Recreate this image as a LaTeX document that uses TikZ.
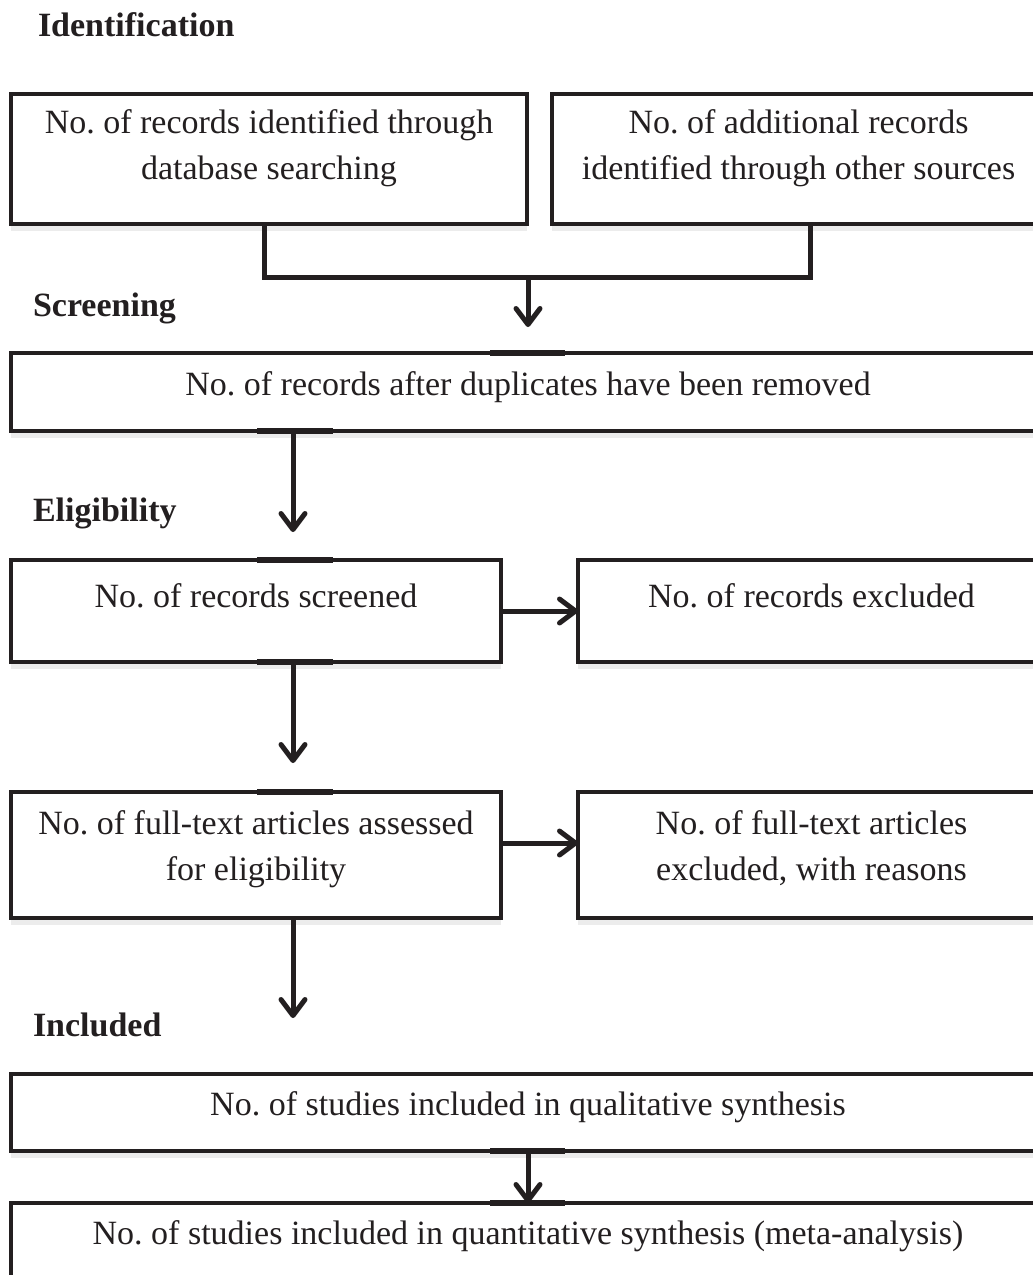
\documentclass[tikz,border=0pt]{standalone}
\usepackage{fontspec}
\setmainfont{Liberation Serif}
\usetikzlibrary{arrows.meta,shadows,calc}
\frenchspacing

\begin{document}
\begin{tikzpicture}[x=1pt,y=1pt,
  box/.style={draw=drawColor,line width=3.5pt,fill=white,rectangle,anchor=north west,inner sep=0pt,outer sep=0pt,
    drop shadow={shadow xshift=0pt,shadow yshift=-7pt,opacity=0.15}},
  boxtext/.style={text=drawColor,anchor=base,align=center,inner sep=0pt,outer sep=0pt,font=\fontsize{34}{46}\selectfont},
  heading/.style={text=drawColor,anchor=base west,inner sep=0pt,outer sep=0pt,font=\fontsize{34}{40}\selectfont\bfseries},
  link/.style={draw=drawColor,line width=5pt},
  arrow/.style={link,-{Straight Barb[length=16pt,width=24pt,line cap=round,line join=round]}},
  seam/.style={draw=drawColor,line width=6pt}]
\definecolor{drawColor}{RGB}{35,31,32}
\path[use as bounding box,fill=white] (0,0) rectangle (1033,-1275);
\clip (0,0) rectangle (1033,-1275);

\node[heading] (identhd) at ( 38, -36) {Identification};
\node[heading] (screenhd) at ( 33,-316) {Screening};
\node[heading] (eligihd) at ( 33,-521) {Eligibility};
\node[heading] (inclhd) at ( 33,-1036) {Included};

\node[box,minimum width=516pt,minimum height=130pt] (dbsearch) at ( 11, -94) {};
\node[box,minimum width=493pt,minimum height=130pt] (othersrc) at (552, -94) {};
\node[box,minimum width=1034pt,minimum height=78pt] (dedup) at ( 11,-353) {};
\node[box,minimum width=490pt,minimum height=102pt] (screened) at ( 11,-560) {};
\node[box,minimum width=467pt,minimum height=102pt] (recexcl) at (578,-560) {};
\node[box,minimum width=490pt,minimum height=126pt] (fulltext) at ( 11,-792) {};
\node[box,minimum width=467pt,minimum height=126pt] (ftexcl) at (578,-792) {};
\node[box,minimum width=1034pt,minimum height=77pt] (qualsyn) at ( 11,-1074) {};
\node[box,minimum width=1034pt,minimum height=100pt] (quantsyn) at ( 11,-1203) {};

\node[boxtext] (dbsearchtxt) at ([yshift=-85pt]dbsearch.north) {No. of records identified through\\database searching};
\node[boxtext] (othersrctxt) at ([yshift=-85pt]othersrc.north) {No. of additional records\\identified through other sources};
\node[boxtext] (deduptxt) at ([yshift=-42pt]dedup.north) {No. of records after duplicates have been removed};
\node[boxtext] (screenedtxt) at ([yshift=-47pt]screened.north) {No. of records screened};
\node[boxtext] (recexcltxt) at ([yshift=-47pt]recexcl.north) {No. of records excluded};
\node[boxtext] (fulltexttxt) at ([yshift=-88pt]fulltext.north) {No. of full-text articles assessed\\for eligibility};
\node[boxtext] (ftexcltxt) at ([yshift=-88pt]ftexcl.north) {No. of full-text articles\\excluded, with reasons};
\node[boxtext] (qualsyntxt) at ([yshift=-41pt]qualsyn.north) {No. of studies included in qualitative synthesis};
\node[boxtext] (quantsyntxt) at ([yshift=-41pt]quantsyn.north) {No. of studies included in quantitative synthesis (meta-analysis)};

\coordinate (merge) at (528,-277);
\coordinate (trunk) at (293,0);
\coordinate (leftdrop) at (264,0);
\coordinate (rightdrop) at (810,0);

\draw[seam] ($(dedup.north)+(-38,0)$) -- ($(dedup.north)+(37,0)$);
\draw[seam] ($(dedup.south -| trunk)+(-36,0)$) -- ($(dedup.south -| trunk)+(40,0)$);
\draw[seam] ($(screened.north -| trunk)+(-36,0)$) -- ($(screened.north -| trunk)+(40,0)$);
\draw[seam] ($(screened.south -| trunk)+(-36,0)$) -- ($(screened.south -| trunk)+(40,0)$);
\draw[seam] ($(fulltext.north -| trunk)+(-36,0)$) -- ($(fulltext.north -| trunk)+(40,0)$);
\draw[seam] ($(qualsyn.south)+(-38,0)$) -- ($(qualsyn.south)+(37,0)$);
\draw[seam] ($(quantsyn.north)+(-38,0)$) -- ($(quantsyn.north)+(37,0)$);

\draw[link] (dbsearch.south -| leftdrop) |- (merge) -| (othersrc.south -| rightdrop);
\draw[arrow] (merge) -- ([yshift=26pt]dedup.north);
\draw[arrow] (dedup.south -| trunk) -- ([yshift=28pt]screened.north -| trunk);
\draw[arrow] (screened.south -| trunk) -- ([yshift=29pt]fulltext.north -| trunk);
\draw[arrow] (fulltext.south -| trunk) -- ([yshift=-100pt]fulltext.south -| trunk);
\draw[arrow] (screened.east) -- (recexcl.west);
\draw[arrow] ([yshift=12pt]fulltext.east) -- ([yshift=12pt]ftexcl.west);
\draw[arrow] (qualsyn.south) -- (quantsyn.north);
\end{tikzpicture}
\end{document}
